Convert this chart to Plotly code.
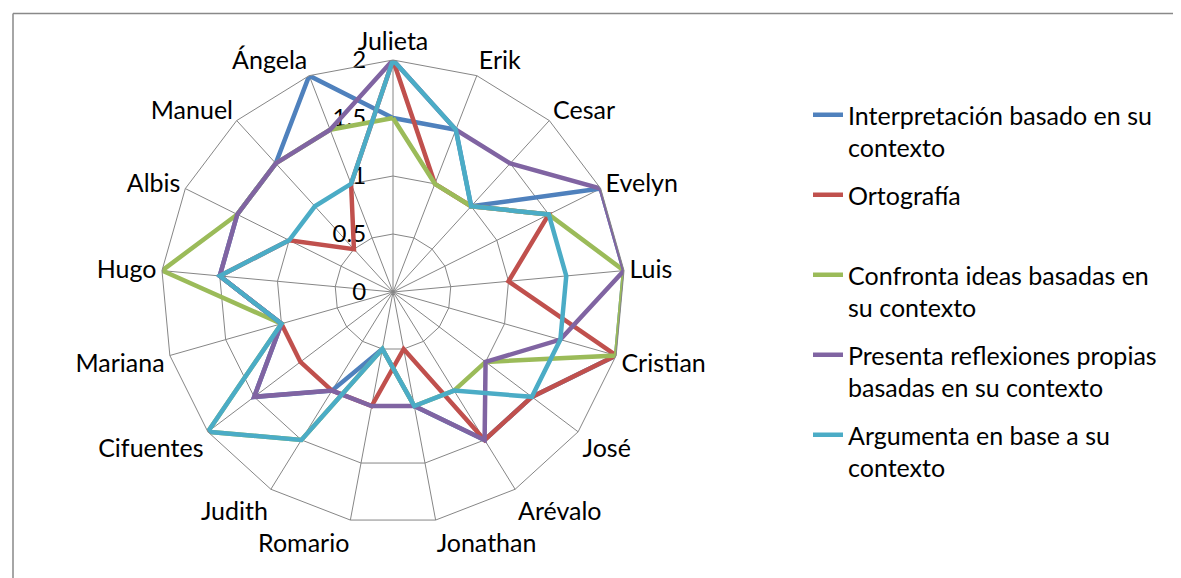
import plotly.graph_objects as go

categories = ["Julieta", "Erik", "Cesar", "Evelyn", "Luis", "Cristian", "José",
              "Arévalo", "Jonathan", "Romario", "Judith", "Cifuentes", "Mariana",
              "Hugo", "Albis", "Manuel", "Ángela"]

interpretacion = [1.5, 1.5, 1, 2, 2, 2, 1.5, 1.5, 1, 0.5, 1, 1.5, 1, 1.5, 1.5, 1.5, 2]
ortografia     = [2, 1, 1, 1.5, 1, 2, 1.5, 1.5, 0.5, 1, 1, 1, 1, 1.5, 1, 0.5, 1]
confronta      = [1.5, 1, 1, 1.5, 2, 2, 1, 1, 1, 0.5, 1.5, 2, 1, 2, 1.5, 1.5, 1.5]
presenta       = [2, 1.5, 1.5, 2, 2, 1.5, 1, 1.5, 1, 1, 1, 1.5, 1, 1.5, 1.5, 1.5, 1.5]
argumenta      = [2, 1.5, 1, 1.5, 1.5, 1.5, 1.5, 1, 1, 0.5, 1.5, 2, 1, 1.5, 1, 1, 1]

series_names = ["Interpretación basado en su<br>contexto",
                "Ortografía<br> ",
                "Confronta ideas basadas en<br>su contexto",
                "Presenta reflexiones propias<br>basadas en su contexto",
                "Argumenta en base a su<br>contexto"]
series_values = [interpretacion, ortografia, confronta, presenta, argumenta]
colors = ["#4F81BD", "#C0504D", "#9BBB59", "#8064A2", "#4BACC6"]

radial_ticks = [0, 0.5, 1, 1.5, 2]
radial_ticktext = ["0", "0.5", "1", "1.5", "2"]

W, H = 1181, 578
FONT = "Lato"

fig = go.Figure()
for i, (name, vals, col) in enumerate(zip(series_names, series_values, colors)):
    fig.add_trace(go.Scatterpolar(
        r=vals + [vals[0]],
        theta=categories + [categories[0]],
        mode="lines",
        name=name,
        legendgroup=f"g{i}",
        line=dict(color=col, width=4.5),
        hoverinfo="skip",
    ))

cx, cy, R = 385, 284, 232
fig.update_layout(
    width=W, height=H,
    margin=dict(l=0, r=0, t=0, b=0),
    paper_bgcolor="white",
    plot_bgcolor="white",
    font=dict(family=FONT, size=25, color="black"),
    polar=dict(
        domain=dict(x=[(cx - R) / W, (cx + R) / W],
                    y=[(H - cy - R) / H, (H - cy + R) / H]),
        bgcolor="white",
        gridshape="linear",
        angularaxis=dict(
            direction="clockwise",
            rotation=90,
            showline=True,
            linecolor="#868686",
            linewidth=1,
            gridcolor="#868686",
            gridwidth=1,
            ticks="",
            tickfont=dict(family=FONT, size=25, color="black"),
        ),
        radialaxis=dict(
            range=[0, 2],
            angle=90,
            tickangle=90,
            tickvals=radial_ticks,
            ticktext=radial_ticktext,
            showline=False,
            gridcolor="#868686",
            gridwidth=1,
            ticks="outside",
            ticklen=18,
            tickcolor="rgba(0,0,0,0)",
            layer="below traces",
            side="counterclockwise",
            tickfont=dict(family=FONT, size=24, color="black"),
        ),
    ),
    legend=dict(
        x=800 / W, y=1 - 84 / H,
        xanchor="left", yanchor="top",
        valign="top",
        tracegroupgap=12,
        font=dict(family=FONT, size=25, color="black"),
        bgcolor="rgba(0,0,0,0)",
    ),
    shapes=[
        dict(type="line", xref="paper", yref="paper",
             x0=5 / W, x1=1, y0=1 - 5.5 / H, y1=1 - 5.5 / H,
             line=dict(color="#898989", width=1.5), layer="below"),
        dict(type="line", xref="paper", yref="paper",
             x0=5 / W, x1=5 / W, y0=0, y1=1 - 5.5 / H,
             line=dict(color="#898989", width=1.5), layer="below"),
    ],
)

fig.write_html("out.html")
